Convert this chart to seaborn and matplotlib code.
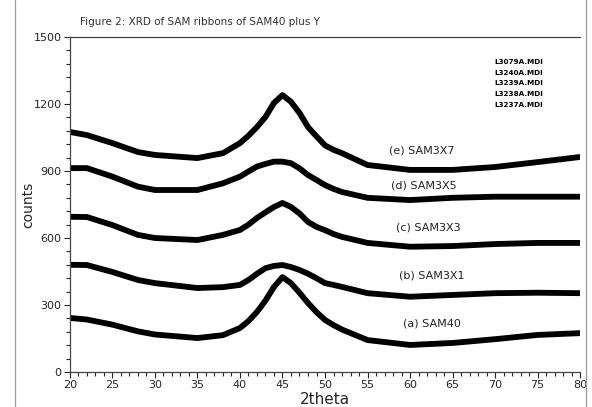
import numpy as np
import pandas as pd
import matplotlib
matplotlib.use("Agg")
import matplotlib.pyplot as plt
from matplotlib.lines import Line2D
from matplotlib.ticker import MultipleLocator
import seaborn as sns

# values (2theta vs counts)
two_theta = [20, 22, 25, 28, 30, 35, 38, 40, 41, 42, 43, 44, 45, 46, 47, 48, 49, 50, 51, 52, 55, 60, 65, 70, 75, 80]
sam40 = [242, 235, 212, 182, 168, 152, 165, 197, 228, 269, 320, 381, 425, 398, 355, 309, 268, 233, 210, 190, 143, 121, 130, 147, 166, 174]
sam3x1 = [480, 479, 448, 412, 398, 376, 380, 390, 412, 440, 465, 475, 479, 470, 457, 440, 420, 398, 390, 381, 353, 337, 345, 353, 355, 353]
sam3x3 = [695, 694, 658, 614, 600, 591, 614, 636, 660, 690, 715, 739, 757, 739, 710, 672, 650, 635, 618, 605, 578, 561, 564, 573, 578, 578]
sam3x5 = [913, 913, 875, 830, 815, 815, 845, 875, 898, 920, 932, 942, 942, 935, 912, 882, 860, 837, 820, 806, 780, 770, 780, 785, 785, 785]
sam3x7 = [1075, 1061, 1025, 985, 972, 958, 980, 1025, 1058, 1097, 1142, 1205, 1240, 1210, 1160, 1097, 1055, 1015, 995, 980, 927, 905, 905, 918, 940, 963]

series_labels = ["(a) SAM40", "(b) SAM3X1", "(c) SAM3X3", "(d) SAM3X5", "(e) SAM3X7"]
label_x = [62.6, 62.6, 62.2, 61.6, 61.4]
label_y = [215, 434, 645, 833, 994]
file_names = ["L3079A.MDI", "L3240A.MDI", "L3239A.MDI", "L3238A.MDI", "L3237A.MDI"]

sns.set_theme(style="white")
plt.rcParams['font.family'] = ['DejaVu Sans']

fig = plt.figure(figsize=(5.92, 4.07), dpi=100)
ax = fig.add_axes([0.118, 0.086, 0.862, 0.823])

for ys in [sam40, sam3x1, sam3x3, sam3x5, sam3x7]:
    sns.lineplot(x=two_theta, y=ys, color='black', linewidth=4.2, ax=ax,
                 solid_joinstyle='round', solid_capstyle='butt')

for lab, lx, ly in zip(series_labels, label_x, label_y):
    ax.text(lx, ly, lab, fontsize=8, ha='center', va='center', color='#222222')

for i, fn in enumerate(file_names):
    ax.text(72.8, 1390 - i * 49, fn, fontsize=5.2, fontweight='bold',
            ha='center', va='center', color='black')

ax.set_xlim(20, 80)
ax.set_ylim(0, 1500)
ax.xaxis.set_major_locator(MultipleLocator(5))
ax.xaxis.set_minor_locator(MultipleLocator(1))
ax.yaxis.set_major_locator(MultipleLocator(300))
ax.yaxis.set_minor_locator(MultipleLocator(60))
ax.tick_params(which='major', direction='out', length=4, width=0.8, labelsize=8,
               bottom=True, left=True, top=False, right=False, pad=2)
ax.tick_params(which='minor', direction='out', length=3, width=0.8,
               bottom=True, left=True, top=False, right=False)
for side in ['left', 'bottom', 'top']:
    ax.spines[side].set_color('#444444')
    ax.spines[side].set_linewidth(0.9)
ax.spines['right'].set_visible(False)

ax.set_xlabel('2theta', fontsize=11, labelpad=1)
ax.set_ylabel('counts', fontsize=10, labelpad=-1)

fig.text(0.135, 0.945, 'Figure 2: XRD of SAM ribbons of SAM40 plus Y', fontsize=7.5,
         ha='left', va='center', color='#333333')

# page border lines
fig.add_artist(Line2D([15 / 592, 15 / 592], [0, 1], transform=fig.transFigure, color='#999999', lw=0.9))
fig.add_artist(Line2D([586 / 592, 586 / 592], [0, 1], transform=fig.transFigure, color='#999999', lw=0.9))

fig.savefig('out.png', dpi=100)
